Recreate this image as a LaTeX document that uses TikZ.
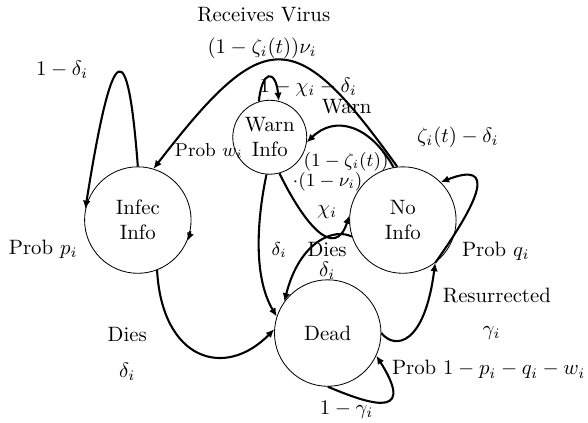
\documentclass[tikz,border=0pt]{standalone}
\usepackage{amsmath,amssymb}
\usepackage{tikz}
\usetikzlibrary{arrows.meta,positioning}

\begin{document}
\begin{tikzpicture}[x=1cm,y=1cm,
  state/.style={circle,draw,align=center,minimum size=1.8cm,inner sep=1pt},
  lbl/.style={inner sep=0pt},
  small lbl/.style={inner sep=0pt,font=\small},
  link/.style={-{Latex[length=4pt,width=3.6pt]},line width=1pt}]
  \useasboundingbox (0,0) rectangle (9.94,7.15);
  % states
  \node[state] (infec) at (2.33,3.43) {Infec\\Info};
  \node[state,minimum size=1.25cm] (warn) at (4.56,4.83) {Warn\\Info};
  \node[state] (noinfo) at (6.81,3.43) {No\\Info};
  \node[state] (dead) at (5.54,1.52) {Dead};
  % labels
  \node[lbl] (l-infec) at (1.05,5.97) {$1-\delta_i$};
  \node[lbl] (p-infec) at (0.73,2.94) {Prob $p_i$};
  \node[lbl] (recv) at (4.46,6.91) {Receives Virus};
  \node[lbl] (recv-rate) at (4.43,6.34) {$(1-\zeta_i(t))\nu_i$};
  \node[lbl] (l-warn) at (5.21,5.68) {$1-\chi_i-\delta_i$};
  \node[lbl] (warn-txt) at (5.86,5.34) {Warn};
  \node[small lbl] (p-warn) at (3.53,4.60) {Prob $w_i$};
  \node[small lbl] (warn-rate1) at (5.85,4.42) {$(1-\zeta_i(t))$};
  \node[small lbl] (warn-rate2) at (5.54,4.08) {$\cdot(1-\nu_i)$};
  \node[lbl] (chi) at (5.53,3.57) {$\chi_i$};
  \node[small lbl] (warn-dies) at (4.72,2.92) {$\delta_i$};
  \node[lbl] (dies-no) at (5.53,2.93) {Dies};
  \node[lbl] (dies-no-rate) at (5.53,2.57) {$\delta_i$};
  \node[lbl] (l-noinfo) at (7.74,4.83) {$\zeta_i(t)-\delta_i$};
  \node[lbl] (p-noinfo) at (8.38,2.91) {Prob $q_i$};
  \node[lbl] (resur) at (8.40,2.15) {Resurrected};
  \node[lbl] (resur-rate) at (8.31,1.52) {$\gamma_i$};
  \node[lbl] (dies-inf) at (2.15,1.50) {Dies};
  \node[lbl] (dies-inf-rate) at (2.15,0.86) {$\delta_i$};
  \node[lbl] (p-dead) at (8.26,0.90) {Prob $1-p_i-q_i-w_i$};
  \node[lbl] (l-dead) at (5.86,0.22) {$1-\gamma_i$};
  % self loops
  \draw[link] (infec.90) .. controls (2.16,6.57) and (1.91,6.57) .. (infec.168);
  \draw[link] (warn.107) .. controls (4.43,5.98) and (4.66,5.98) .. (warn.76);
  \draw[link] (noinfo.-53) .. controls (8.11,3.77) and (8.40,4.44) .. (noinfo.45);
  \draw[link] (dead.270) .. controls (6.08,0.39) and (7.10,-0.03) .. (dead.-25);
  \draw[link] (infec.-12) arc[start angle=-12,end angle=-23,radius=0.9cm];
  % transitions
  \draw[link] (noinfo.96) .. controls (4.99,6.74) and (4.48,6.74) .. (infec.73);
  \draw[link] (noinfo.100) .. controls (6.25,5.04) and (5.66,5.21) .. (warn.-8);
  \draw[link] (warn.265) .. controls (4.36,3.52) and (4.26,2.50) .. (dead.162);
  \draw[link] (warn.285) .. controls (5.15,3.35) and (5.66,2.75) .. (noinfo.175);
  \draw[link] (noinfo.198) .. controls (5.66,3.30) and (5.07,3.09) .. (dead.144);
  \draw[link] (infec.291) .. controls (2.74,1.06) and (3.80,0.73) .. (dead.176);
  \draw[link] (dead.0) .. controls (6.68,1.23) and (7.18,1.32) .. (noinfo.-53);
\end{tikzpicture}
\end{document}
